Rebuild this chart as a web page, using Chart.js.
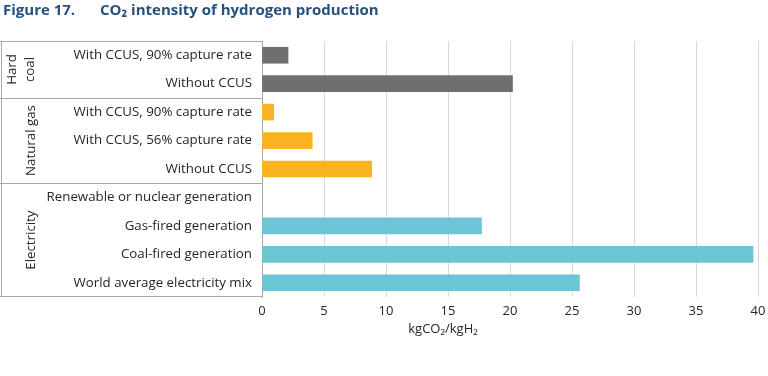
<!DOCTYPE html>
<html>
<head>
<meta charset="utf-8">
<script src="https://cdn.jsdelivr.net/npm/chart.js@4.4.1/dist/chart.umd.min.js"></script>
<style>
  html, body { margin: 0; padding: 0; background: #fff; }
  #wrap { width: 768px; height: 376px; position: relative; }
</style>
</head>
<body>
<div id="wrap"><canvas id="chart" width="768" height="376"></canvas></div>
<script>
// data
const categories = [
  'With CCUS, 90% capture rate',
  'Without CCUS',
  'With CCUS, 90% capture rate',
  'With CCUS, 56% capture rate',
  'Without CCUS',
  'Renewable or nuclear generation',
  'Gas-fired generation',
  'Coal-fired generation',
  'World average electricity mix'
];
const intensity = [2.1, 20.2, 0.95, 4.05, 8.85, 0, 17.7, 39.6, 25.6];
const groupNames = [['Hard', 'coal'], ['Natural gas'], ['Electricity']];
const groupSizes = [2, 3, 4];
const groupColors = ['#6e6f71', '#fbb41f', '#6cc5d5'];
const xMin = 0, xMax = 40, xStep = 5;
const xTitle = 'kgCO\u2082/kgH\u2082';
const figLabel = 'Figure 17.';
const figTitle = 'CO\u2082 intensity of hydrogen production';

const FONT = '"Open Sans", "Noto Sans", sans-serif';
const TEXT = '#262626';
const LINE = '#a9a9a9';

// one colour per bar, by group
const barColors = [];
groupSizes.forEach((n, g) => { for (let i = 0; i < n; i++) barColors.push(groupColors[g]); });

const decor = {
  id: 'decor',
  afterDraw(chart) {
    const ctx = chart.ctx;
    const y = chart.scales.y;
    const area = chart.chartArea;
    ctx.save();

    // title
    ctx.fillStyle = '#28507c';
    ctx.font = 'bold 15px ' + FONT;
    ctx.textBaseline = 'alphabetic';
    ctx.textAlign = 'left';
    ctx.fillText(figLabel, 3, 15);
    ctx.fillText(figTitle, 100, 15);

    // box around the category labels
    ctx.strokeStyle = LINE;
    ctx.lineWidth = 1;
    ctx.beginPath();
    ctx.moveTo(0, area.top + 0.5); ctx.lineTo(area.left, area.top + 0.5);
    ctx.moveTo(0, area.bottom - 0.5); ctx.lineTo(area.left, area.bottom - 0.5);
    ctx.moveTo(1.5, area.top); ctx.lineTo(1.5, area.bottom);
    ctx.stroke();

    // group separators and rotated group names
    let start = 0;
    const half = (y.getPixelForValue(1) - y.getPixelForValue(0)) / 2;
    groupSizes.forEach((n, g) => {
      const top = y.getPixelForValue(start) - half;
      const bot = y.getPixelForValue(start + n - 1) + half;
      if (g > 0) {
        ctx.beginPath();
        ctx.moveTo(0, Math.round(top) + 0.5);
        ctx.lineTo(area.left, Math.round(top) + 0.5);
        ctx.stroke();
      }
      const lines = groupNames[g];
      const mid = (top + bot) / 2;
      ctx.fillStyle = TEXT;
      ctx.font = '13.3px ' + FONT;
      ctx.textAlign = 'center';
      ctx.textBaseline = 'middle';
      lines.forEach((t, k) => {
        const cx = lines.length === 1 ? 31 : 12 + k * 18;
        ctx.save();
        ctx.translate(cx, mid);
        ctx.rotate(-Math.PI / 2);
        ctx.fillText(t, 0, 0);
        ctx.restore();
      });
      start += n;
    });

    // x axis title
    ctx.fillStyle = TEXT;
    ctx.font = '13px ' + FONT;
    ctx.textAlign = 'center';
    ctx.textBaseline = 'middle';
    ctx.fillText(xTitle, 443, 329);

    ctx.restore();
  }
};

new Chart(document.getElementById('chart').getContext('2d'), {
  type: 'bar',
  data: {
    labels: categories,
    datasets: [{
      data: intensity,
      backgroundColor: barColors,
      borderWidth: 0,
      barThickness: 16
    }]
  },
  options: {
    indexAxis: 'y',
    responsive: false,
    animation: false,
    layout: { padding: { top: 41, left: 0, right: 10, bottom: 29 } },
    plugins: {
      legend: { display: false },
      title: { display: false },
      tooltip: { enabled: false }
    },
    scales: {
      x: {
        min: xMin,
        max: xMax,
        ticks: {
          stepSize: xStep,
          color: TEXT,
          font: { family: FONT, size: 13 },
          padding: 6
        },
        grid: { color: '#d9d9d9', drawTicks: false },
        border: { display: false },
        afterFit(s) { s.height = 50; s.paddingLeft = 0; s.paddingRight = 0; }
      },
      y: {
        ticks: {
          color: TEXT,
          font: { family: FONT, size: 13.3 },
          padding: 10
        },
        grid: { display: false, drawTicks: false },
        border: { display: true, color: LINE },
        afterFit(s) { s.width = 262; s.paddingTop = 0; s.paddingBottom = 0; }
      }
    }
  },
  plugins: [decor]
});
</script>
</body>
</html>
